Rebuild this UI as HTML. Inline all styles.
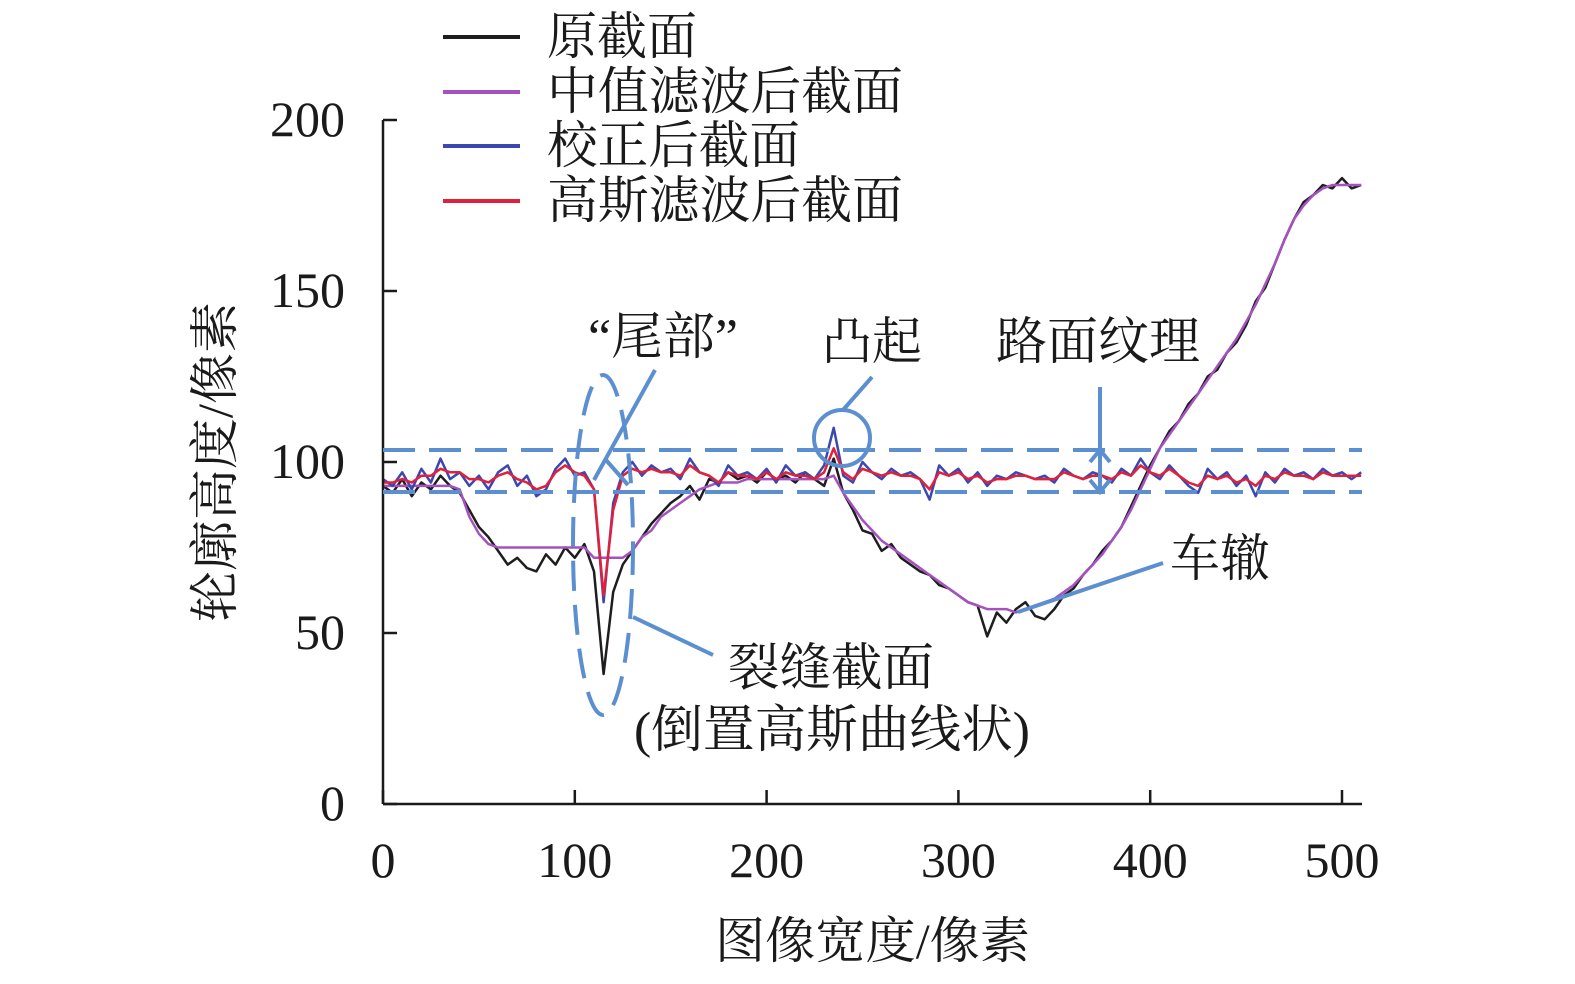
<!DOCTYPE html>
<html><head><meta charset="utf-8">
<style>
html,body{margin:0;padding:0;background:#fff;}
svg{display:block;}
text{font-family:"Liberation Serif","Noto Serif CJK SC",serif;fill:#1a1a1a;}
</style></head>
<body>
<svg id="chart" width="1575" height="984" viewBox="0 0 1575 984" xmlns="http://www.w3.org/2000/svg">
<rect x="0" y="0" width="1575" height="984" fill="#fff"/>
<g id="series"></g>
<g id="axes"></g>
<g id="annos" fill="none" stroke="#5b8fd0" stroke-width="4"></g>
<g id="legend"></g>
</svg>
<script>
const xTicks=[0,100,200,300,400,500];
const yTicks=[0,50,100,150,200];
const original=[93,91,95,90,94,92,96,93,91,86,81,78,74,70,72,69,68,73,70,75,72,76,68,38,62,70,74,78,82,85,88,90,93,89,95,94,97,95,96,94,97,95,96,94,97,95,93,101,91,86,80,79,74,76,72,70,68,67,64,63,61,59,58,49,56,53,57,59,55,54,57,61,63,67,70,74,77,81,87,93,99,104,109,112,117,120,125,127,132,135,140,147,151,158,165,171,176,178,181,180,183,180,181];
const median=[93,93,93,93,93,93,93,93,92,84,79,76,75,75,75,75,75,75,75,75,75,75,72,72,72,72,74,78,80,84,86,88,90,92,93,94,94,94,95,95,95,95,95,95,95,95,95,96,91,87,83,80,77,75,73,71,69,67,65,63,61,59,58,57,57,57,56,57,58,59,60,62,64,67,70,73,77,81,86,92,98,104,108,112,116,120,124,128,132,136,141,146,152,158,165,171,175,178,180,181,181,181,181];
const corrected=[95,93,97,92,98,94,101,95,97,93,96,92,97,99,93,96,90,92,98,101,96,97,92,59,88,97,100,96,99,97,98,95,101,97,96,93,99,96,97,95,98,94,99,96,97,95,99,110,96,94,100,97,95,98,96,97,95,89,99,96,98,94,97,93,96,95,97,96,95,96,94,98,96,95,97,96,94,98,96,101,97,95,99,96,93,91,98,95,97,93,96,90,97,94,98,96,97,95,98,96,97,95,97];
const gaussian=[94,94,95,94,96,96,98,97,97,95,95,94,96,97,95,94,92,93,97,99,97,96,92,61,86,96,98,97,98,97,97,96,99,97,96,94,97,96,96,95,97,95,97,96,96,95,97,104,97,95,98,97,96,97,96,96,95,92,97,96,97,95,96,94,95,95,96,96,95,95,95,97,96,95,96,96,95,97,96,99,97,96,98,96,94,93,96,95,96,94,95,93,96,95,97,96,96,95,97,96,96,96,96];
const xStep=5;
const seriesNames=["原截面","中值滤波后截面","校正后截面","高斯滤波后截面"];
const seriesColors=["#1e1e1e","#a552c0","#3a48b0","#e2203c"];

const NS="http://www.w3.org/2000/svg";
const X0=383,X1=1342,Y0=804,Y1=120;
const sx=v=>X0+(v-0)*(X1-X0)/500;
const sy=v=>Y0-(v-0)*(Y0-Y1)/200;
function mk(tag,attrs,parent){const e=document.createElementNS(NS,tag);for(const k in attrs)e.setAttribute(k,attrs[k]);parent.appendChild(e);return e;}

const sg=document.getElementById('series');
const all=[original,median,corrected,gaussian];
const snames=['original-profile-line','median-filtered-line','corrected-profile-line','gaussian-filtered-line'];
all.forEach((arr,i)=>{
  const d=arr.map((v,j)=>(j?'L':'M')+sx(j*xStep).toFixed(1)+','+sy(v).toFixed(1)).join(' ');
  const p=mk('path',{d:d,fill:'none',stroke:seriesColors[i],'stroke-width':2.5,'stroke-linejoin':'round'},sg);
  
  
});

const ag=document.getElementById('axes');
const ya=mk('line',{x1:X0,y1:Y1,x2:X0,y2:Y0,stroke:'#1a1a1a','stroke-width':2.5},ag);


const xa=mk('line',{x1:X0,y1:Y0,x2:1362,y2:Y0,stroke:'#1a1a1a','stroke-width':2.5},ag);


yTicks.forEach(v=>{
  const t=mk('line',{x1:X0,y1:sy(v),x2:X0+14,y2:sy(v),stroke:'#1a1a1a','stroke-width':2.5},ag);
  
  
  const l=mk('text',{x:345,y:sy(v)+16,'text-anchor':'end','font-size':50},ag);
  l.textContent=v;
  
  
});
xTicks.forEach(v=>{
  const t=mk('line',{x1:sx(v),y1:Y0,x2:sx(v),y2:Y0-14,stroke:'#1a1a1a','stroke-width':2.5},ag);
  
  
  const l=mk('text',{x:sx(v),y:877,'text-anchor':'middle','font-size':50},ag);
  l.textContent=v;
  
  
});
const xt=mk('text',{x:715,y:958,'font-size':50,textLength:315,lengthAdjust:'spacingAndGlyphs'},ag);
xt.textContent='图像宽度/像素';


const yt=mk('text',{x:0,y:0,'font-size':50,textLength:320,lengthAdjust:'spacingAndGlyphs',transform:'translate(232,622) rotate(-90)'},ag);
yt.textContent='轮廓高度/像素';



const lg=document.getElementById('legend');
const ly=[37,92,146,201];
const lw=[150,356,253,356];
seriesNames.forEach((n,i)=>{
  const l=mk('line',{x1:443,y1:ly[i],x2:520,y2:ly[i],stroke:seriesColors[i],'stroke-width':4},lg);
  
  
  const t=mk('text',{x:547,y:ly[i]+17,'font-size':51,textLength:lw[i],lengthAdjust:'spacingAndGlyphs'},lg);
  t.textContent=n;
  
  
});

const an=document.getElementById('annos');
function aline(a,name){const e=mk(a[0],a[1],an);return e;}
aline(['line',{x1:383,y1:450,x2:1362,y2:450,'stroke-dasharray':'32 14'}],'upper-texture-bound');
aline(['line',{x1:383,y1:492,x2:1362,y2:492,'stroke-dasharray':'32 14'}],'lower-texture-bound');
aline(['ellipse',{cx:603,cy:545,rx:30,ry:170,'stroke-dasharray':'30 14'}],'crack-ellipse');
aline(['circle',{cx:842,cy:438,r:28}],'bump-circle');
aline(['line',{x1:655,y1:370,x2:594,y2:480}],'tail-pointer');
aline(['line',{x1:606,y1:460,x2:628,y2:485}],'tail-pointer-2');
aline(['line',{x1:872,y1:377,x2:843,y2:410}],'bump-pointer');
aline(['line',{x1:1100,y1:387,x2:1100,y2:490}],'texture-arrow');
aline(['path',{d:'M1090,462 L1100,450 L1110,462 M1090,480 L1100,492 L1110,480'}],'texture-arrow-heads');
aline(['line',{x1:1163,y1:563,x2:1018,y2:612}],'rut-pointer');
aline(['line',{x1:633,y1:617,x2:713,y2:655}],'crack-pointer');

const labels=[['“尾部”',588,354,150,'tail-label'],['凸起',822,359,100,'bump-label'],['路面纹理',996,359,204,'texture-label'],['车辙',1170,576,100,'rut-label'],['裂缝截面',728,685,206,'crack-label'],['(倒置高斯曲线状)',634,747,396,'crack-shape-label']];
labels.forEach(a=>{
  const t=mk('text',{x:a[1],y:a[2],'font-size':51,textLength:a[3],lengthAdjust:'spacingAndGlyphs'},an);
  t.setAttribute('stroke','none');
  t.textContent=a[0];
  
  
});
</script>
</body></html>
